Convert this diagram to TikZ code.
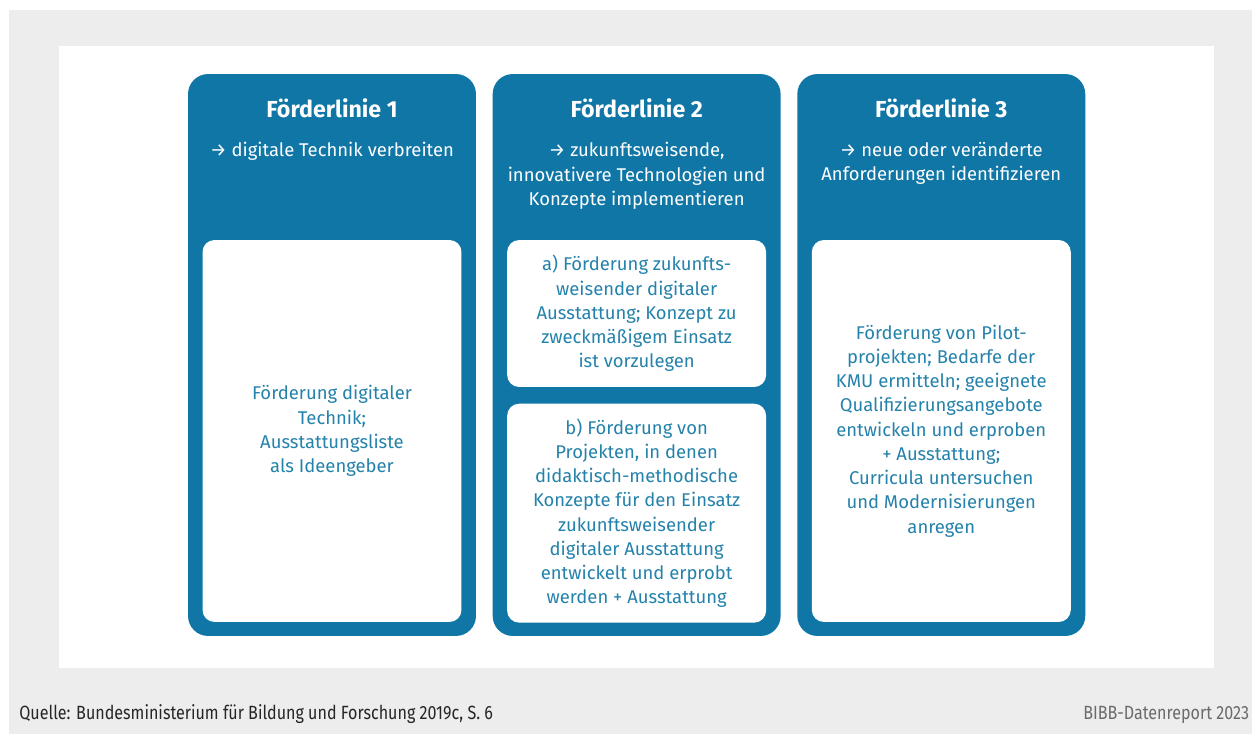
\documentclass[tikz,border=0pt]{standalone}
\usepackage{fontspec}
\setmainfont{Fira Sans}
\newfontfamily\schmal[FakeStretch=0.84]{Fira Sans}
\usepackage{tikz}
\usetikzlibrary{positioning}
\definecolor{bibbblau}{HTML}{0F76A6}
\definecolor{textblau}{HTML}{2482AB}
\definecolor{hgrau}{HTML}{EDEDED}

\begin{document}
\begin{tikzpicture}[
    x=0.02cm, y=-0.02cm,
    spalte/.style={rectangle, fill=bibbblau, rounded corners=0.4cm, minimum width=5.76cm, minimum height=11.24cm, inner sep=0},
    kasten/.style={rectangle, fill=white, rounded corners=0.24cm, minimum width=5.18cm, inner sep=0, text=textblau, align=center, font=\fontsize{10.5pt}{13.8pt}\selectfont},
    titel/.style={text=white, inner sep=0, font=\bfseries\fontsize{13.2pt}{15pt}\selectfont},
    kopf/.style={text=white, align=center, inner sep=0, font=\fontsize{10.5pt}{13.8pt}\selectfont},
    fuss/.style={anchor=base west, inner sep=0, font=\schmal\fontsize{10.9pt}{12pt}\selectfont}
]
\useasboundingbox (0,0) rectangle (1252,734);
\fill[white] (0,0) rectangle (1252,734);
\fill[hgrau] (9,10) rectangle (1252,734);
\fill[white] (59,46) rectangle (1214,668);

% Spalten
\node (linie1) [spalte] at (332,355) {};
\node (linie2) [spalte, right=0.32cm of linie1] {};
\node (linie3) [spalte, right=0.32cm of linie2] {};

\node (titel1) [titel, below=0.5cm of linie1.north] {Förderlinie 1};
\node (titel2) [titel, below=0.5cm of linie2.north] {Förderlinie 2};
\node (titel3) [titel, below=0.5cm of linie3.north] {Förderlinie 3};

\node (kopf1) [kopf, below=1.37cm of linie1.north] {→ digitale Technik verbreiten};
\node (kopf2) [kopf, below=1.37cm of linie2.north] {→ zukunftsweisende,\\innovativere Technologien und\\Konzepte implementieren};
\node (kopf3) [kopf, below=1.37cm of linie3.north] {→ neue oder veränderte\\Anforderungen identifizieren};

% weisse Kaesten
\node (kasten1) [kasten, minimum height=7.64cm, below=3.32cm of linie1.north] {Förderung digitaler\\Technik;\\Ausstattungsliste\\als Ideengeber};
\node (kasten2a) [kasten, minimum height=2.94cm, below=3.32cm of linie2.north] {a) Förderung zukunfts-\\weisender digitaler\\Ausstattung; Konzept zu\\zweckmäßigem Einsatz\\ist vorzulegen};
\node (kasten2b) [kasten, minimum height=4.38cm, below=0.32cm of kasten2a] {b) Förderung von\\Projekten, in denen\\didaktisch-methodische\\Konzepte für den Einsatz\\zukunftsweisender\\digitaler Ausstattung\\entwickelt und erprobt\\werden + Ausstattung};
\node (kasten3) [kasten, minimum height=7.64cm, below=3.32cm of linie3.north] {Förderung von Pilot-\\projekten; Bedarfe der\\KMU ermitteln; geeignete\\Qualifizierungsangebote\\entwickeln und erproben\\+ Ausstattung;\\Curricula untersuchen\\und Modernisierungen\\anregen};

% Fusszeile
\node (quelle) [fuss, text=black!85] at (19,719) {Quelle: Bundesministerium für Bildung und Forschung 2019c, S. 6};
\node (report) [fuss, text=black!58] at (1083,719) {BIBB-Datenreport 2023};

\end{tikzpicture}
\end{document}
